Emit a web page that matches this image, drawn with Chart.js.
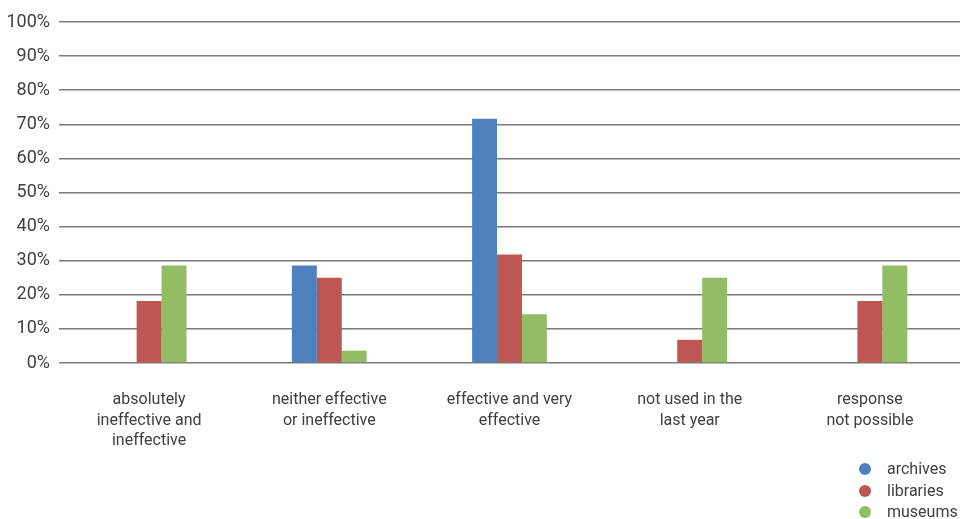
<!DOCTYPE html>
<html>
<head>
<meta charset="utf-8">
<script src="https://cdn.jsdelivr.net/npm/chart.js@4/dist/chart.umd.min.js"></script>
<style>
    html, body { margin: 0; padding: 0; background: #fff; }
    #wrap { position: relative; width: 960px; height: 519px; }
    #legend {
        position: absolute; left: 859px; top: 458px;
        font-family: Roboto, "Liberation Sans", sans-serif; font-size: 16px; color: #404040;
    }
    #legend div { height: 21.5px; line-height: 21.5px; white-space: nowrap; }
    #legend span.dot {
        display: inline-block; width: 12px; height: 12px; border-radius: 50%;
        vertical-align: -1px; margin-right: 16px;
    }
</style>
</head>
<body>
<div id="wrap">
    <canvas id="chart" width="960" height="519"></canvas>
    <div id="legend"></div>
</div>
<script>
// Categorieën en percentages per type instelling
const categories = [
    ['absolutely', 'ineffective and', 'ineffective'],
    ['neither effective', 'or ineffective'],
    ['effective and very', 'effective'],
    ['not used in the', 'last year'],
    ['response', 'not possible']
];
const archives = [0, 28.6, 71.6, 0, 0];
const libraries = [18.2, 25.0, 31.8, 6.8, 18.2];
const museums = [28.6, 3.6, 14.3, 25.0, 28.6];
const yTicks = [0, 10, 20, 30, 40, 50, 60, 70, 80, 90, 100];

const textColor = '#404040';
const fontFamily = 'Roboto, "Liberation Sans", sans-serif';

const data = {
    labels: categories,
    datasets: [
        { label: 'archives', data: archives, backgroundColor: '#4d80bd' },
        { label: 'libraries', data: libraries, backgroundColor: '#be5652' },
        { label: 'museums', data: museums, backgroundColor: '#92bd64' }
    ]
};

const chart = new Chart(document.getElementById('chart').getContext('2d'), {
    type: 'bar',
    data: data,
    options: {
        responsive: false,
        animation: false,
        devicePixelRatio: 1,
        layout: { padding: { top: 22, right: 0, bottom: 0, left: 0 } },
        datasets: {
            bar: { categoryPercentage: 0.415, barPercentage: 1, borderWidth: 0 }
        },
        scales: {
            x: {
                grid: { display: false, drawTicks: false },
                border: { display: false },
                ticks: {
                    padding: 27,
                    maxRotation: 0,
                    autoSkip: false,
                    color: textColor,
                    font: { family: fontFamily, size: 16, lineHeight: 1.28 }
                },
                afterFit: (scale) => { scale.height = 156; }
            },
            y: {
                min: 0,
                max: 100,
                afterBuildTicks: (scale) => { scale.ticks = yTicks.map(v => ({ value: v })); },
                grid: { color: '#7a7a7a', lineWidth: 1.5, drawTicks: false },
                border: { display: false },
                ticks: {
                    padding: 9,
                    color: textColor,
                    font: { family: fontFamily, size: 18 },
                    callback: (v) => v + '%'
                },
                afterFit: (scale) => { scale.width = 59; }
            }
        },
        plugins: {
            legend: { display: false },
            tooltip: { enabled: false }
        }
    }
});

// Legenda rechtsonder, opgebouwd uit de datasets
const legend = document.getElementById('legend');
chart.data.datasets.forEach(ds => {
    const row = document.createElement('div');
    const dot = document.createElement('span');
    dot.className = 'dot';
    dot.style.background = ds.backgroundColor;
    row.appendChild(dot);
    row.appendChild(document.createTextNode(ds.label));
    legend.appendChild(row);
});
</script>
</body>
</html>
